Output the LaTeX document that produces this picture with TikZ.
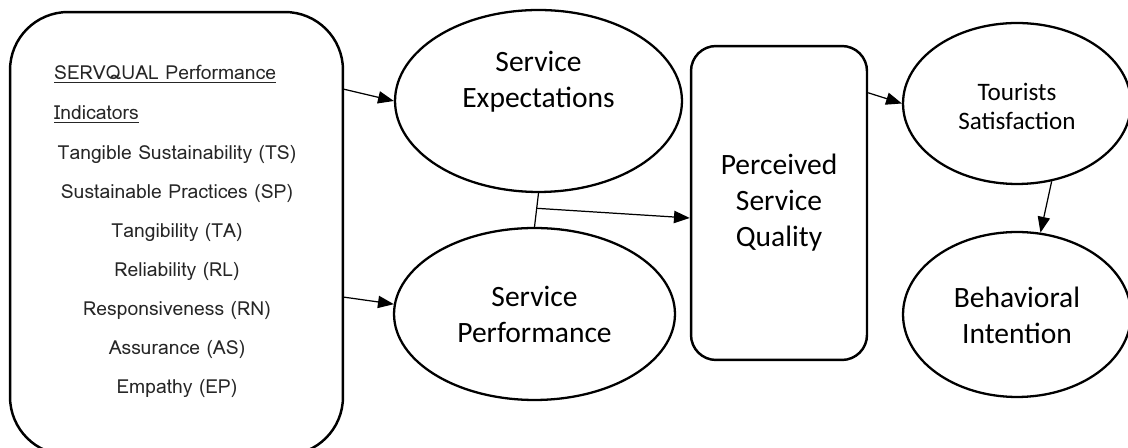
\documentclass[tikz,border=0pt]{standalone}
\usepackage{fontspec}
\setmainfont{Carlito}
\newfontfamily\listfont[Script=Thai]{Loma}
\usetikzlibrary{shapes.geometric, arrows.meta, calc}
\tikzset{>={Triangle[length=9pt,width=7pt]}}
\tikzset{
  ovalbox/.style={draw, line width=1.3pt, ellipse, inner sep=0pt},
  roundbox/.style={draw, line width=1.4pt, rectangle, inner sep=0pt},
  bigtext/.style={align=center, font=\fontsize{16.8}{20.5}\selectfont},
  listitem/.style={anchor=base, font=\listfont\fontsize{11}{13}\selectfont, text=black!85},
  link/.style={->, line width=0.7pt}
}

\begin{document}
\begin{tikzpicture}[x=0.02cm, y=-0.02cm]
    \useasboundingbox (0,0) rectangle (1128,448);
    % indicator box
    \node[roundbox, rounded corners=1.16cm, minimum width=6.66cm, minimum height=8.86cm] (ind) at (176.5,233.5) {};
    \node[listitem, anchor=base west] (head1) at (48,80) {\underline{SERVQUAL Performance}};
    \node[listitem, anchor=base west] (head2) at (48,120) {\underline{Indicators}};
    \foreach \t [count=\i] in {Tangible Sustainability (TS), Sustainable Practices (SP),
        Tangibility (TA), Reliability (RL), Responsiveness (RN), Assurance (AS), Empathy (EP)}
        \node[listitem] (item\i) at (177,{121+39*\i}) {\t};
    % expectations and performance
    \node[ovalbox, minimum width=5.74cm, minimum height=3.64cm] (se) at (538.5,101) {};
    \node[bigtext] (setext) at (538.5,82) {Service\\Expectations};
    \node[ovalbox, minimum width=5.62cm, minimum height=3.44cm] (sp) at (534.5,314) {};
    \node[bigtext] (sptext) at (534.5,314) {Service\\Performance};
    % perceived quality
    \node[roundbox, rounded corners=0.5cm, minimum width=3.52cm, minimum height=6.28cm] (psq) at (779,203) {};
    \node[bigtext] (psqtext) at (779,203) {Perceived\\Service\\Quality};
    % outcomes
    \node[ovalbox, minimum width=4.56cm, minimum height=3.22cm] (ts) at (1017,103.5) {};
    \node[align=center, font=\fontsize{14.3}{16.5}\selectfont] (tstext) at (1017,106) {Tourists\\Satisfaction};
    \node[ovalbox, minimum width=4.56cm, minimum height=3.3cm] (bi) at (1017,314.5) {};
    \node[bigtext] (bitext) at (1017,315) {Behavioral\\Intention};
    % connectors
    \coordinate (o1) at (343,89);
    \coordinate (o2) at (343,297);
    \draw[link] (o1) -- (se.west);
    \draw[link] (o2) -- (sp.176);
    \draw[line width=0.7pt] (se.south) -- (sp.north);
    \coordinate (join) at ($(se.south)!0.45!(sp.north)$);
    \draw[link] (join) -- ($(psq.west)+(0,15)$);
    \draw[link] ($(psq.north east)+(0,48)$) -- (ts.west);
    \draw[link] (ts.-66) -- (bi.74);
\end{tikzpicture}
\end{document}
